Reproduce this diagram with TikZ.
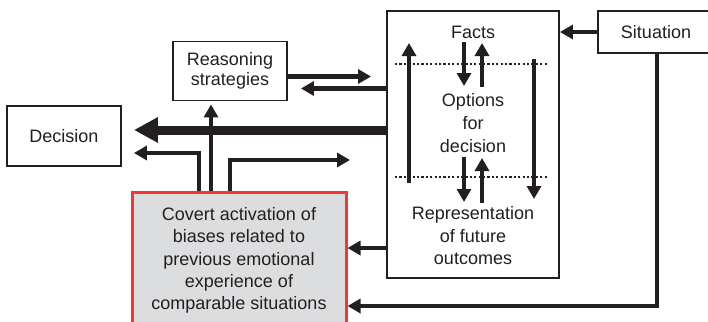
\documentclass[tikz,border=0pt]{standalone}
\usepackage{fontspec}
\setmainfont{Liberation Sans}
\usetikzlibrary{arrows.meta,calc}
\definecolor{ink}{HTML}{231F20}
\definecolor{boxgray}{HTML}{DCDDDF}
\definecolor{boxred}{HTML}{EE3A34}
\begin{document}
\begin{tikzpicture}[x=1pt,y=-1pt,
  every node/.style={text=ink,font=\fontsize{18}{21.5}\selectfont},
  box/.style={draw=ink,line width=1.9pt,fill=white,align=center,inner sep=0pt},
  label/.style={align=center,inner sep=0pt},
  arr/.style={draw=ink,line width=4.4pt,-{Triangle[length=13pt,width=14pt]}},
  bigarr/.style={draw=ink,line width=9pt,-{Triangle[length=24pt,width=24pt]}},
  divider/.style={draw=ink,line width=2.6pt,dash pattern=on 2.2pt off 2.2pt}]
\clip (0,0) rectangle (708,321);
\fill[white] (0,0) rectangle (708,321);

% boxes
\node[box,minimum width=114pt,minimum height=60pt] (dec) at (64,136) {Decision};
\node[box,minimum width=114pt,minimum height=59pt,font=\fontsize{18}{20}\selectfont] (reas) at (230,71) {Reasoning\\strategies};
\node[box,minimum width=172pt,minimum height=267pt] (main) at (473,144.5) {};
\node[box,minimum width=116pt,minimum height=42pt] (sit) at (656,32) {Situation};
\node[box,draw=boxred,line width=3pt,fill=boxgray,minimum width=214pt,minimum height=136pt,
      font=\fontsize{18}{22.3}\selectfont] (cov) at (239,260.5)
  {Covert activation of\\biases related to\\previous emotional\\experience of\\comparable situations};

% texts inside the central box
\node[label] (facts) at (473,32) {Facts};
\node[label,font=\fontsize{18}{23}\selectfont] (opts) at (473,123) {Options\\for\\decision};
\node[label,font=\fontsize{18}{22.5}\selectfont] (rep) at (473,236) {Representation\\of future\\outcomes};

% levels used by the connectors
\coordinate (ySit) at (0,32);
\coordinate (yReasIn) at (0,76.5);
\coordinate (yReasOut) at (0,88.5);
\coordinate (yDec) at (0,130);
\coordinate (yCovDec) at (0,153);
\coordinate (yCovOut) at (0,160);
\coordinate (yMainCov) at (0,248);
\coordinate (ySitCov) at (0,306);
\coordinate (xA) at (199,0);
\coordinate (xB) at (211,0);
\coordinate (xC) at (230,0);
\coordinate (xSit) at (657,0);
\coordinate (covEnd) at (350,160);

% connectors between boxes
\draw[arr] (sit.west |- ySit) -- (main.east |- ySit);
\draw[arr] (sit.south -| xSit) |- (cov.east |- ySitCov);
\draw[arr] (main.west |- yMainCov) -- (cov.east |- yMainCov);
\draw[arr,shorten >=15pt] (reas.east |- yReasIn) -- (main.west |- yReasIn);
\draw[arr,shorten >=13pt] (main.west |- yReasOut) -- (reas.east |- yReasOut);
\draw[bigarr,shorten >=12pt] (main.west |- yDec) -- (dec.east |- yDec);
\draw[arr,shorten >=12pt] (cov.north -| xA) |- (dec.east |- yCovDec);
\draw[arr,shorten >=3pt] (cov.north -| xB) -- (reas.south -| xB);
\draw[arr] (cov.north -| xC) |- (covEnd);

% dotted dividers
\coordinate (d1l) at (395,64);  \coordinate (d1r) at (548,64);
\coordinate (d2l) at (395,177); \coordinate (d2r) at (548,177);
\draw[divider] (d1l) -- (d1r);
\draw[divider] (d2l) -- (d2r);

% arrows inside the central box
\coordinate (lb) at (409,183); \coordinate (lt) at (409,43);
\coordinate (rt) at (534,59);  \coordinate (rb) at (534,199);
\coordinate (f1) at (464,42);  \coordinate (o1) at (464,86);
\coordinate (o2) at (482,87);  \coordinate (f2) at (482,43);
\coordinate (o3) at (464,157); \coordinate (r1) at (464,202);
\coordinate (r2) at (482,203); \coordinate (o4) at (482,158);
\draw[arr] (lb) -- (lt);
\draw[arr] (rt) -- (rb);
\draw[arr] (f1) -- (o1);
\draw[arr] (o2) -- (f2);
\draw[arr] (o3) -- (r1);
\draw[arr] (r2) -- (o4);
\end{tikzpicture}
\end{document}
